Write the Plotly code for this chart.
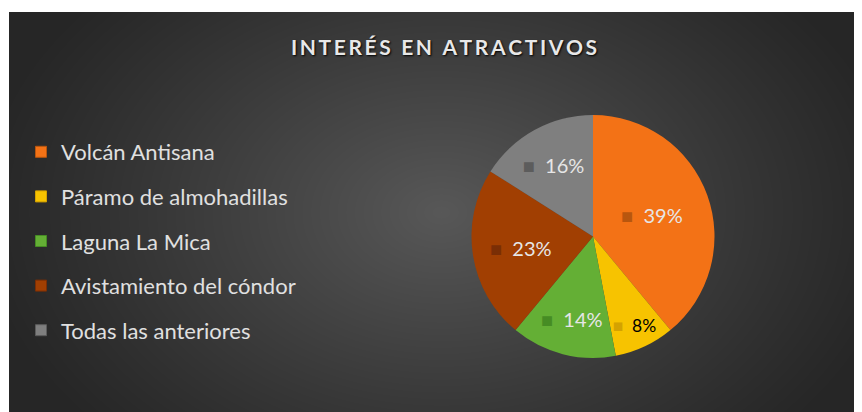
import base64, struct, zlib
import numpy as np
import plotly.graph_objects as go

# ---- data ----
categories = ["Volcán Antisana", "Páramo de almohadillas", "Laguna La Mica",
              "Avistamiento del cóndor", "Todas las anteriores"]
values = [39, 8, 14, 23, 16]
slice_colors = ["#F37216", "#F7C300", "#64AF35", "#A13F02", "#7F7F7F"]
icon_colors = ["#B8560E", "#D4A200", "#468C24", "#7A2E05", "#5C5C5C"]
label_colors = ["#E6E6E6", "#000000", "#E6E6E6", "#E6E6E6", "#E6E6E6"]
title_text = "INTERÉS EN ATRACTIVOS"

W, H = 862, 412
OFF = 8  # page body margin offset
X0, Y0 = 9 - OFF, 12 - OFF


def px(x):
    return (x - OFF) / W


def py(y):
    return 1 - (y - OFF) / H


# ---- background radial gradient as PNG ----
def make_png(arr):
    h, w, _ = arr.shape
    raw = b"".join(b"\x00" + arr[i].tobytes() for i in range(h))

    def chunk(t, d):
        c = struct.pack(">I", len(d)) + t + d
        return c + struct.pack(">I", zlib.crc32(t + d) & 0xffffffff)
    png = b"\x89PNG\r\n\x1a\n"
    png += chunk(b"IHDR", struct.pack(">IIBBBBB", w, h, 8, 2, 0, 0, 0))
    png += chunk(b"IDAT", zlib.compress(raw, 9))
    png += chunk(b"IEND", b"")
    return "data:image/png;base64," + base64.b64encode(png).decode()


bw, bh = W - X0, H - Y0
yy, xx = np.mgrid[0:bh, 0:bw].astype(float)
cx, cy = 432.0, 200.0
r = np.sqrt(((xx - cx) / 470.0) ** 2 + ((yy - cy) / 330.0) ** 2)
r = np.clip(r, 0, 1)
v = 38 + (88 - 38) * (1 - r) ** 1.1
img = np.repeat(v[:, :, None], 3, axis=2).astype(np.uint8)
bg_src = make_png(img)

fig = go.Figure()

texttemplate = [
    f"<span style='color:{ic}'>■</span>  %{{percent:.0%}}" for ic in icon_colors
]

fig.add_trace(go.Pie(
    labels=categories,
    values=values,
    sort=False,
    direction="clockwise",
    rotation=0,
    marker=dict(colors=slice_colors, line=dict(width=0)),
    texttemplate=texttemplate,
    textposition="inside",
    insidetextorientation="horizontal",
    textfont=dict(family="Lato", size=20, color=label_colors),
    domain=dict(x=[px(393), px(793)], y=[py(358), py(115)]),
    showlegend=False,
    hoverinfo="label+percent",
))

for i, (cat, col) in enumerate(zip(categories, slice_colors)):
    fig.add_trace(go.Scatter(
        x=[None], y=[None], mode="markers", name=cat,
        legendgroup=f"g{i}",
        marker=dict(symbol="square", size=11, color=col,
                    line=dict(width=1, color=icon_colors[i])),
        showlegend=True,
    ))

spaced = "\u2009".join(title_text)

fig.update_layout(
    width=W, height=H,
    margin=dict(l=0, r=0, t=0, b=0),
    paper_bgcolor="white",
    plot_bgcolor="rgba(0,0,0,0)",
    xaxis=dict(visible=False),
    yaxis=dict(visible=False),
    title=dict(
        text=spaced, x=px(444), y=py(48), xanchor="center", yanchor="middle",
        font=dict(family="Lato", size=21, weight="bold", color="#E8E8E8",
                  shadow="1px 1px 2px #000"),
    ),
    legend=dict(
        x=px(21), y=py(131), xanchor="left", yanchor="top",
        font=dict(family="Lato", size=22, color="#E0E0E0"),
        bgcolor="rgba(0,0,0,0)",
        tracegroupgap=13,
        itemwidth=30,
        itemclick=False,
    ),
    images=[dict(
        source=bg_src, xref="paper", yref="paper",
        x=X0 / W, y=1 - Y0 / H, sizex=bw / W, sizey=bh / H,
        xanchor="left", yanchor="top", sizing="stretch", layer="below",
    )],
)

fig.write_html("out.html")
